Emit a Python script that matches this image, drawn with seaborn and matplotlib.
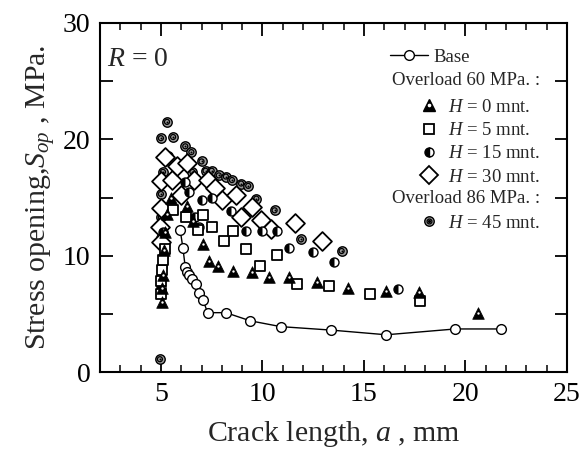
import matplotlib
matplotlib.use("Agg")
import matplotlib.pyplot as plt
import seaborn as sns
import pandas as pd
from matplotlib.lines import Line2D
from matplotlib.path import Path
from matplotlib.ticker import MultipleLocator

# ---------------- data ----------------
base_x = [5.95, 6.08, 6.2, 6.3, 6.4, 6.55, 6.75, 6.9, 7.07, 7.3, 8.2, 9.4, 10.9, 13.4, 16.1, 19.5, 21.75]
base_y = [12.2, 10.7, 9.0, 8.6, 8.3, 8.0, 7.6, 6.8, 6.2, 5.1, 5.1, 4.4, 3.9, 3.6, 3.2, 3.7, 3.7]

h0_x = [5.05, 5.05, 5.1, 5.15, 5.2, 5.3, 5.5, 6.3, 6.6, 7.07, 7.35, 7.8, 8.54, 9.5, 10.3, 11.3, 12.7, 14.2, 16.1, 17.7, 20.6]
h0_y = [6.0, 7.2, 8.3, 10.5, 12.0, 13.6, 15.0, 14.3, 13.0, 11.0, 9.5, 9.1, 8.7, 8.6, 8.2, 8.2, 7.7, 7.2, 7.0, 6.9, 5.1]

h5_x = [5.0, 5.0, 5.05, 5.1, 5.2, 5.6, 6.23, 6.84, 7.07, 7.5, 8.1, 8.54, 9.2, 9.86, 10.7, 11.7, 13.3, 15.3, 17.75]
h5_y = [6.7, 7.8, 8.8, 9.6, 10.6, 13.9, 13.3, 12.2, 13.5, 12.5, 11.3, 12.1, 10.6, 9.1, 10.1, 7.6, 7.4, 6.7, 6.1]

h15_x = [5.0, 5.05, 5.1, 5.1, 6.2, 6.4, 6.67, 6.9, 7.0, 7.5, 8.44, 9.18, 10.0, 10.74, 11.3, 12.5, 13.5, 16.7]
h15_y = [7.3, 9.0, 9.9, 12.0, 16.3, 15.5, 13.3, 12.5, 14.75, 15.0, 13.8, 12.1, 12.1, 12.1, 10.7, 10.3, 9.45, 7.15]

h30_x = [4.95, 5.0, 5.0, 5.0, 5.2, 5.55, 5.8, 6.0, 6.3, 6.65, 7.3, 7.65, 8.0, 8.7, 8.95, 9.5, 9.95, 10.4, 11.6, 12.95]
h30_y = [12.5, 11.2, 14.1, 16.4, 18.5, 16.5, 17.7, 15.2, 18.0, 16.5, 16.5, 15.8, 14.8, 15.2, 13.3, 14.2, 13.1, 12.3, 12.8, 11.3]

h45_x = [4.95, 5.0, 5.0, 5.0, 5.1, 5.35, 5.0, 5.3, 5.6, 6.2, 6.5, 6.55, 7.0, 7.2, 7.5, 7.85, 8.2, 8.5, 8.95, 9.3, 9.7, 10.6, 11.9, 13.9]
h45_y = [1.1, 11.5, 13.3, 15.3, 17.2, 18.6, 20.1, 21.5, 20.2, 19.4, 18.9, 17.2, 18.1, 17.3, 17.3, 16.9, 16.8, 16.5, 16.2, 16.0, 14.9, 13.9, 11.4, 10.4]

x_ticks = [5, 10, 15, 20, 25]
y_ticks = [0, 10, 20, 30]

# ---------------- style ----------------
sns.set_theme(style="ticks")
plt.rcParams["font.family"] = ["Liberation Serif", "DejaVu Serif"]
plt.rcParams["mathtext.fontset"] = "custom"
plt.rcParams["mathtext.rm"] = "Liberation Serif"
plt.rcParams["mathtext.it"] = "Liberation Serif:italic"

fig = plt.figure(figsize=(5.81, 4.5), dpi=100)
ax = fig.add_axes([100 / 581, 1 - 372 / 450, 467 / 581, 349 / 450])

EW = 1.0
# base line
df_base = pd.DataFrame({"a": base_x, "s": base_y})
sns.lineplot(data=df_base, x="a", y="s", ax=ax, color="black", lw=1.0, sort=False,
             marker="o", markersize=7, markerfacecolor="white",
             markeredgecolor="black", markeredgewidth=EW, zorder=5)

# 45 mnt (target marker) - bottom layer
df45 = pd.DataFrame({"a": h45_x, "s": h45_y})
sns.scatterplot(data=df45, x="a", y="s", ax=ax, marker="o", s=46, color="#9a9a9a",
                edgecolor="black", linewidth=EW, zorder=2)
sns.scatterplot(data=df45, x="a", y="s", ax=ax, marker="o", s=13, facecolor="none",
                edgecolor="black", linewidth=0.9, zorder=2)
sns.scatterplot(data=df45, x="a", y="s", ax=ax, marker="o", s=2, color="black",
                edgecolor="black", linewidth=0, zorder=2)

# 30 mnt diamonds
df30 = pd.DataFrame({"a": h30_x, "s": h30_y})
sns.scatterplot(data=df30, x="a", y="s", ax=ax, marker="D", s=92, facecolor="white",
                edgecolor="black", linewidth=1.3, zorder=3)

# 15 mnt half-filled circles
df15 = pd.DataFrame({"a": h15_x, "s": h15_y})
sns.scatterplot(data=df15, x="a", y="s", ax=ax, marker="o", s=42, facecolor="white",
                edgecolor="black", linewidth=EW, zorder=3)
half = Path.wedge(90, 270)
sns.scatterplot(data=df15, x="a", y="s", ax=ax, marker=half, s=42, color="black",
                edgecolor="black", linewidth=0, zorder=3)

# 5 mnt squares
df5 = pd.DataFrame({"a": h5_x, "s": h5_y})
sns.scatterplot(data=df5, x="a", y="s", ax=ax, marker="s", s=58, facecolor="white",
                edgecolor="black", linewidth=1.3, zorder=4)

# 0 mnt triangles
df0 = pd.DataFrame({"a": h0_x, "s": h0_y})
sns.scatterplot(data=df0, x="a", y="s", ax=ax, marker="^", s=70, color="black",
                edgecolor="black", linewidth=0.5, zorder=4)
sns.scatterplot(data=df0, x="a", y="s", ax=ax, marker="o", s=3, color="white",
                linewidth=0, zorder=4)

# ---------------- axes ----------------
ax.set_xlim(2, 25)
ax.set_ylim(0, 30)
ax.set_xticks(x_ticks)
ax.set_yticks(y_ticks)
ax.xaxis.set_minor_locator(MultipleLocator(1))
ax.yaxis.set_minor_locator(MultipleLocator(5))
ax.tick_params(which="both", direction="in", top=True, right=True, colors="black")
ax.tick_params(which="major", length=9, width=1.3, labelsize=20, pad=7)
ax.tick_params(axis="x", which="minor", length=5, width=1.1)
ax.tick_params(axis="y", which="minor", length=9, width=1.3)
for sp in ax.spines.values():
    sp.set_linewidth(1.5)
    sp.set_color("black")

ax.set_xlabel("Crack length, $a$ , mm", fontsize=21.5, labelpad=9)
ax.set_ylabel("Stress opening,$S_{op}$ , MPa.", fontsize=21.5, labelpad=4)

ax.text(0.015, 0.894, "$R$ = 0", transform=ax.transAxes, fontsize=20, va="center", ha="left")

# ---------------- legend ----------------
LF = 13.5
common = dict(loc="upper left", frameon=False, fontsize=LF, borderpad=0, borderaxespad=0)

base_h = Line2D([], [], color="black", lw=1.0, marker="o", markersize=7,
                markerfacecolor="white", markeredgecolor="black", markeredgewidth=EW)
leg1 = ax.legend(handles=[base_h], labels=["Base"], bbox_to_anchor=(0.621, 0.927),
                 handlelength=2.0, handletextpad=0.32, **common)
ax.add_artist(leg1)

tri_h = (Line2D([], [], ls="", marker="^", markersize=8, color="black"),
         Line2D([], [], ls="", marker="o", markersize=1.6, color="white"))
sq_h = Line2D([], [], ls="", marker="s", markersize=7.5, markerfacecolor="white",
              markeredgecolor="black", markeredgewidth=1.3)
half_h = Line2D([], [], ls="", marker="o", markersize=6.5, fillstyle="left",
                markerfacecolor="black", markerfacecoloralt="white",
                markeredgecolor="black", markeredgewidth=EW)
dia_h = Line2D([], [], ls="", marker="D", markersize=9, markerfacecolor="white",
               markeredgecolor="black", markeredgewidth=1.3)
tgt_h = (Line2D([], [], ls="", marker="o", markersize=6.8, markerfacecolor="#9a9a9a",
                markeredgecolor="black", markeredgewidth=EW),
         Line2D([], [], ls="", marker="o", markersize=3.5, markerfacecolor="none",
                markeredgecolor="black", markeredgewidth=0.9),
         Line2D([], [], ls="", marker="o", markersize=1.3, color="black"))

labels60 = ["$H$ = 0 mnt.", "$H$ = 5 mnt.", "$H$ = 15 mnt.", "$H$ = 30 mnt."]
leg2 = ax.legend(handles=[tri_h, sq_h, half_h, dia_h], labels=labels60,
                 bbox_to_anchor=(0.684, 0.783), handlelength=1.0, handletextpad=0.5,
                 labelspacing=0.33, **common)
ax.add_artist(leg2)

leg3 = ax.legend(handles=[tgt_h], labels=["$H$ = 45 mnt."],
                 bbox_to_anchor=(0.684, 0.451), handlelength=1.0, handletextpad=0.5,
                 **common)

ax.text(0.625, 0.836, "Overload 60 MPa. :", transform=ax.transAxes, fontsize=LF,
        va="center", ha="left")
ax.text(0.625, 0.496, "Overload 86 MPa. :", transform=ax.transAxes, fontsize=LF,
        va="center", ha="left")

fig.savefig("out.png", dpi=100)
